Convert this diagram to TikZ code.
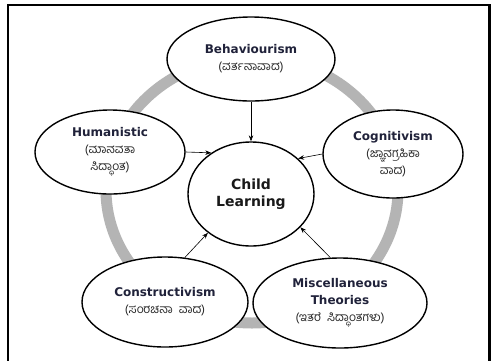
\documentclass[tikz,border=0pt]{standalone}
\usepackage{fontspec}
\setmainfont{DejaVu Sans}
\newfontfamily\knfam[Script=Kannada]{Hind Mysuru}
\usetikzlibrary{shapes.geometric,arrows.meta}
\definecolor{ringgray}{RGB}{180,180,180}
\definecolor{ttlcol}{RGB}{32,34,58}
\newcommand\ttlf{\fontsize{12}{17}\selectfont\bfseries\color{ttlcol}}
\newcommand\bigf{\fontsize{14}{17}\selectfont\bfseries\color{black!90}}
\newcommand\knt{\knfam\fontsize{12}{17}\selectfont\color{black!85}}
\begin{document}
\begin{tikzpicture}[x=1pt,y=-1pt,
  bub/.style={ellipse,draw=black,line width=1.4pt,fill=white,inner sep=0pt,align=center,
    font=\fontsize{12}{17}\selectfont},
  arr/.style={-{Stealth[length=6pt,width=4.5pt]},line width=0.6pt}]
\useasboundingbox (0,0) rectangle (491,360);
\clip (0,0) rectangle (491,360);
\fill[white] (0,0) rectangle (491,360);
\draw[line width=2.5pt] (8,370) -- (8,5) -- (489.5,5) -- (489.5,370);
\draw[ringgray, line width=11pt] (252,190) ellipse [x radius=146, y radius=133];

\node[bub,minimum width=168pt,minimum height=84pt] (beh) at (251,59)
  {{\ttlf Behaviourism}\\{\knt (ವರ್ತನಾವಾದ)}};
\node[bub,minimum width=150pt,minimum height=84pt] (hum) at (110,152)
  {{\ttlf Humanistic}\\{\knt (ಮಾನವತಾ}\\{\knt ಸಿದ್ಧಾಂತ)}};
\node[bub,minimum width=140pt,minimum height=88pt] (cog) at (393,154)
  {{\ttlf Cognitivism}\\{\knt (ಜ್ಞಾನಗ್ರಹಿಕಾ}\\{\knt ವಾದ)}};
\node[bub,minimum width=126pt,minimum height=104pt,font=\bigf] (child) at (251,194)
  {Child\\Learning};
\node[bub,minimum width=166pt,minimum height=90pt] (con) at (165,302)
  {{\ttlf Constructivism}\\{\knt (ಸಂರಚನಾ\ \ ವಾದ)}};
\node[bub,minimum width=174pt,minimum height=90pt] (mis) at (340,303)
  {{\ttlf Miscellaneous}\\{\ttlf Theories}\\{\knt (ಇತರೆ\ \ ಸಿದ್ಧಾಂತಗಳು)}};

\draw[arr] (beh.south) -- (child.north);
\draw[arr] (hum.east) -- (child.134);
\draw[arr] (cog.west) -- (child.37);
\draw[arr] (con.66) -- (child.222);
\draw[arr] (mis.102) -- (child.326);
\end{tikzpicture}
\end{document}
